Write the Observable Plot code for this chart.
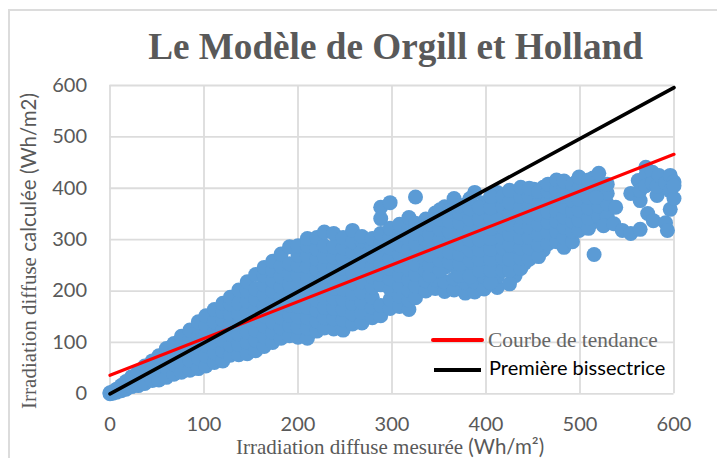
<!DOCTYPE html>
<html><head><meta charset="utf-8">
<script src="https://cdn.jsdelivr.net/npm/d3@7"></script>
<script src="https://cdn.jsdelivr.net/npm/@observablehq/plot@0.6"></script>
<style>
html,body{margin:0;padding:0;background:#fff;overflow:hidden}
#wrap{position:relative;width:717px;height:458px}
#frame{position:absolute;left:8px;top:9px;width:720px;height:470px;border:2px solid #dcdcdc;box-sizing:border-box}
.t{position:absolute;white-space:nowrap;color:#595959}
.serif{font-family:"Liberation Serif",serif}
.sans{font-family:Lato,sans-serif}
#plot{position:absolute;left:0;top:0}
</style></head><body>
<div id="wrap"><div id="frame"></div><div id="plot"></div>
<div class="t serif" style="left:0;width:791px;text-align:center;top:25px;font-size:37.2px;font-weight:bold;line-height:44px">Le Modèle de Orgill et Holland</div>
<div class="t serif" style="left:236px;top:434px;font-size:21px;line-height:24px">Irradiation diffuse mesurée <span class="sans" style="font-size:20.5px">(Wh/m²)</span></div>
<div class="t serif" style="left:28px;top:251px;font-size:21px;line-height:24px;transform:translate(-50%,-50%) rotate(-90deg)">Irradiation diffuse <span class="sans" style="font-size:20.5px">calculée (Wh/m2)</span></div>
<div style="position:absolute;left:431px;top:338px;width:53px;height:4px;background:#ff0000;border-radius:2px"></div>
<div style="position:absolute;left:434px;top:368px;width:47px;height:4px;background:#000"></div>
<div class="t serif" style="left:488px;top:328px;font-size:21.4px;line-height:24px;color:#666">Courbe de tendance</div>
<div class="t sans" style="left:489px;top:355px;font-size:20px;line-height:24px;color:#000">Première bissectrice</div>
</div>
<script>
// [measured, [calculated values at about that measured value]]
const lowRange = [
[0,[0,2]],[3,[1,4]],[7,[3,9]],[12,[6,16]],[17,[9,24]],[23,[14,33]],[30,[16,44]],[37,[20,54]],
[45,[26,45,64]],[52,[27,48,74]],[60,[32,52,72,88]],[68,[38,58,78,98]],[76,[42,62,82,102,112]],
[85,[46,66,86,106,124]],[94,[49,70,90,110,130,140]],[102,[54,74,94,114,134,152]],
[111,[61,80,100,120,140,164]],[120,[64,84,104,124,144,160,176]],[128,[75,95,115,135,155,175,188]],
[137,[76,96,116,136,156,176,202]],[146,[78,100,120,140,160,180,200,218]],[155,[84,104,124,144,164,184,204,232]],
[164,[92,112,132,152,172,192,212,230,246]],[173,[100,120,140,160,180,200,220,240,258]],
[182,[108,128,148,168,188,208,228,248,272]],[191,[113,133,153,173,193,213,233,253,286]]
];
const midRange = [
[200,[110,130,150,170,190,210,230,250,270,288]],[210,[108,128,148,168,188,208,228,248,268,288,302]],
[220,[122,142,162,182,202,222,242,262,282,304]],[228,[128,148,168,188,208,228,248,268,288,315]],
[238,[126,146,166,186,206,226,246,266,286,312]],[248,[124,144,164,184,204,224,244,264,284,304]],
[258,[136,156,176,196,216,236,256,276,296,318]],[268,[138,158,178,198,218,238,258,278,298,306]],
[279,[148,168,188,208,228,248,268,288,302]],[288,[152,172,212,232,252,272,292,312,341,363]],
[298,[166,184,204,224,244,264,284,304,322,372]],[308,[170,190,210,230,250,270,290,310,330]],
[318,[164,182,202,222,242,262,282,302,322,343]],[325,[187,210,232,252,272,292,312,332,383]],
[336,[200,220,240,260,280,300,320,340]],[346,[205,222,250,270,290,310,330,352]],
[356,[199,218,246,264,284,304,324,344,364]],[366,[202,224,250,270,290,310,330,350,380]],
[378,[196,216,240,260,280,300,320,340,368]],[388,[198,218,250,270,290,310,330,350,392]],
[398,[204,228,250,270,290,310,330,350,372]],[412,[207,228,252,272,292,312,332,352,376,392]]
];
const interiorFill = [
[340,[230,250,270,290,310,330]],[351,[240,260,280,300,320,340,358]],[361,[256,276,296,316,336,356]],
[372,[230,252,272,292,312,332,352,366]],[383,[228,260,280,300,320,340,360,380]],[393,[240,262,280,300,320,340,362]],
[405,[216,240,262,282,302,322,342,362,384]],[418,[240,264,284,304,324,344,364,384]],
[431,[230,256,276,296,316,336,356,376,392]],[441,[254,274,294,314,334,354,374,392]],
[451,[276,298,318,338,358,378,398]],[461,[280,302,322,342,362,382,402]],[470,[305,325,345,365,385,404]],
[479,[310,330,350,370,390,410]],[488,[300,322,342,362,382,402]],[496,[330,350,370,390,412]],
[504,[332,352,372,392,410]],[514,[335,355,375,395,420]]
];
const highRange = [
[425,[214,240,262,290,310,330,350,372,396]],[437,[244,264,284,304,324,344,364,384,402]],
[446,[262,284,304,324,344,364,384,400]],[456,[267,290,310,330,350,370,390,394]],
[466,[292,314,334,354,374,394,408]],[475,[296,316,336,356,376,396,416]],
[483,[285,304,324,344,364,384,404,414]],[492,[296,316,336,356,376,396,408]],
[499,[318,338,358,378,400,422]],[509,[322,342,362,382,402,416]],[515,[271]],
[520,[345,365,385,405,429]],[529,[345,370,390,408]],[517,[382]]
];
const rightCluster = [
[525,[327]],[536,[331]],[538,[363]],[545,[318]],[554,[312,390]],[562,[415]],[564,[320,376,396]],
[570,[441,425,405]],[572,[351]],[577,[431,410]],[578,[337]],[582,[386,404]],[584,[425]],
[591,[333,410]],[593,[318]],[596,[359,425,395]],[600,[380,412,405]]
];
const measuredTrend = [0,600];
const calculatedTrend = [36,466];
const measuredBisector = [0,600];
const calculatedBisector = [0,596];
const xTicks = [0,100,200,300,400,500,600];
const yTicks = [0,100,200,300,400,500,600];

const points = [...lowRange,...midRange,...interiorFill,...highRange,...rightCluster]
  .flatMap(([x,ys])=>ys.map(y=>({x,y})));
const toLine = (xs,ys)=>xs.map((x,i)=>({x,y:ys[i]}));

const chart = Plot.plot({
  width:717,height:458,
  marginLeft:109.5,marginRight:43.5,marginTop:85,marginBottom:64.7,
  style:{background:"transparent",overflow:"visible"},
  x:{domain:[0,600]},y:{domain:[0,600]},
  marks:[
    Plot.gridX(xTicks,{stroke:"#dcdcdc",strokeOpacity:1,strokeWidth:1.8}),
    Plot.gridY(yTicks,{stroke:"#dcdcdc",strokeOpacity:1,strokeWidth:1.8}),
    Plot.axisX(xTicks,{label:null,tickSize:0,tickPadding:23,fontSize:20,fontFamily:"Lato",fill:"#595959"}),
    Plot.axisY(yTicks,{label:null,tickSize:0,tickPadding:23,fontSize:20,fontFamily:"Lato",fill:"#595959"}),
    Plot.dot(points,{x:"x",y:"y",r:7.5,fill:"#5b9bd5",stroke:"none",clip:false}),
    Plot.line(toLine(measuredTrend,calculatedTrend),{x:"x",y:"y",stroke:"#ff0000",strokeWidth:3.2}),
    Plot.line(toLine(measuredBisector,calculatedBisector),{x:"x",y:"y",stroke:"#000",strokeWidth:3.6})
  ]
});
document.getElementById("plot").append(chart);
</script>
</body></html>
